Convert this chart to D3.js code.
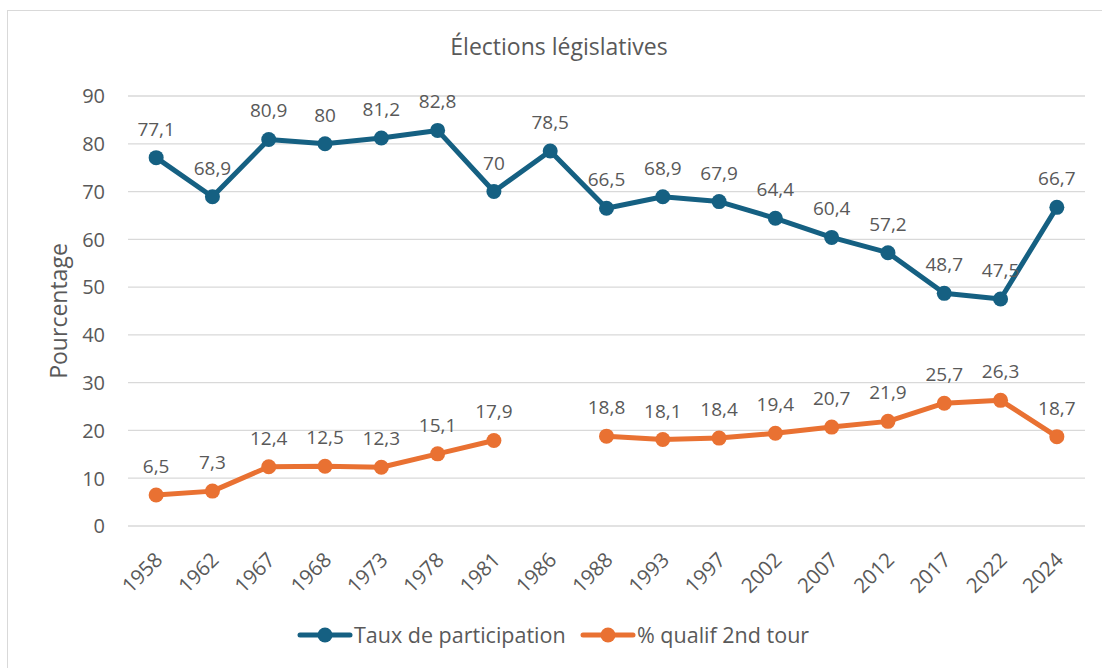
<!DOCTYPE html>
<html>
<head>
<meta charset="utf-8">
<script src="https://cdn.jsdelivr.net/npm/d3@7"></script>
<style>
  body { margin: 0; background: #fff; }
  text { font-family: "Open Sans", sans-serif; fill: #595959; }
</style>
</head>
<body>
<svg id="chart"></svg>
<script>
var years = ["1958","1962","1967","1968","1973","1978","1981","1986","1988","1993","1997","2002","2007","2012","2017","2022","2024"]
var participation = [77.1,68.9,80.9,80,81.2,82.8,70,78.5,66.5,68.9,67.9,64.4,60.4,57.2,48.7,47.5,66.7]
var qualif = [6.5,7.3,12.4,12.5,12.3,15.1,17.9,null,18.8,18.1,18.4,19.4,20.7,21.9,25.7,26.3,18.7]
var yTicks = [0,10,20,30,40,50,60,70,80,90]
var seriesNames = ["Taux de participation", "% qualif 2nd tour"]
var colors = ["#156082", "#E97132"]

var screen = {width: 1102, height: 668}
var svg = d3.select("#chart")
  .attr("width", screen.width)
  .attr("height", screen.height)

svg.append("rect")
  .attr("x", 7.5).attr("y", 10.5)
  .attr("width", 1120).attr("height", 700)
  .attr("fill", "#fff")
  .attr("stroke", "#d9d9d9")

var plot = {left: 128, right: 1085, top: 96, bottom: 526}

var x = d3.scalePoint()
  .domain(years)
  .range([plot.left, plot.right])
  .padding(0.5)

var y = d3.scaleLinear()
  .domain([0, 90])
  .range([plot.bottom, plot.top])

// gridlines
svg.append("g")
  .selectAll("line")
  .data(yTicks)
  .enter()
  .append("line")
  .attr("x1", plot.left).attr("x2", plot.right)
  .attr("y1", function(d){ return y(d) })
  .attr("y2", function(d){ return y(d) })
  .attr("stroke", "#d9d9d9")
  .attr("stroke-width", 1.3)

// y axis labels
var yAxis = d3.axisLeft(y).tickValues(yTicks).tickSize(0).tickPadding(0)
var yg = svg.append("g")
  .attr("transform", "translate(" + (plot.left - 23) + ",0)")
  .call(yAxis)
yg.select(".domain").remove()
yg.selectAll("text")
  .style("font-size", "20px")
  .attr("fill", "#595959")
  .attr("dy", "0.34em")

// x axis labels
var xAxis = d3.axisBottom(x).tickSize(0).tickPadding(0)
var xg = svg.append("g")
  .attr("transform", "translate(0," + (plot.bottom + 12) + ")")
  .call(xAxis)
xg.select(".domain").remove()
xg.selectAll("text")
  .style("font-size", "20.5px")
  .attr("fill", "#595959")
  .attr("text-anchor", "end")
  .attr("dy", "0.7em")
  .attr("transform", "translate(-3,13) rotate(-45)")

// title
svg.append("text")
  .attr("x", 559).attr("y", 55)
  .attr("text-anchor", "middle")
  .style("font-size", "23px")
  .text("Élections législatives")

// y axis title
svg.append("text")
  .attr("transform", "translate(67,311) rotate(-90)")
  .attr("text-anchor", "middle")
  .style("font-size", "23px")
  .text("Pourcentage")

var line = d3.line()
  .defined(function(d){ return d.v != null })
  .x(function(d){ return x(d.year) })
  .y(function(d){ return y(d.v) })

var fmt = function(v){ return String(v).replace(".", ",") }

var series = [participation, qualif]
series.forEach(function(vals, i){
  var data = years.map(function(yr, j){ return {year: yr, v: vals[j]} })
  var g = svg.append("g")
  g.append("path")
    .datum(data)
    .attr("fill", "none")
    .attr("stroke", colors[i])
    .attr("stroke-width", 5)
    .attr("stroke-linejoin", "round")
    .attr("stroke-linecap", "round")
    .attr("d", line)
  var pts = data.filter(function(d){ return d.v != null })
  g.selectAll("circle")
    .data(pts)
    .enter()
    .append("circle")
    .attr("cx", function(d){ return x(d.year) })
    .attr("cy", function(d){ return y(d.v) })
    .attr("r", 7.5)
    .attr("fill", colors[i])
  g.selectAll("text")
    .data(pts)
    .enter()
    .append("text")
    .attr("x", function(d){ return x(d.year) })
    .attr("y", function(d){ return y(d.v) - 22 })
    .attr("text-anchor", "middle")
    .style("font-size", "19px")
    .text(function(d){ return fmt(d.v) })
})

// legend
var legendX = [298, 581]
seriesNames.forEach(function(name, i){
  var lg = svg.append("g").attr("transform", "translate(" + legendX[i] + ",635)")
  lg.append("line")
    .attr("x1", 2).attr("x2", 52)
    .attr("stroke", colors[i])
    .attr("stroke-width", 5)
    .attr("stroke-linecap", "round")
  lg.append("circle")
    .attr("cx", 27).attr("r", 7.5)
    .attr("fill", colors[i])
  lg.append("text")
    .attr("x", 56).attr("y", 0)
    .attr("dy", "0.35em")
    .style("font-size", "21.5px")
    .text(name)
})
</script>
</body>
</html>
